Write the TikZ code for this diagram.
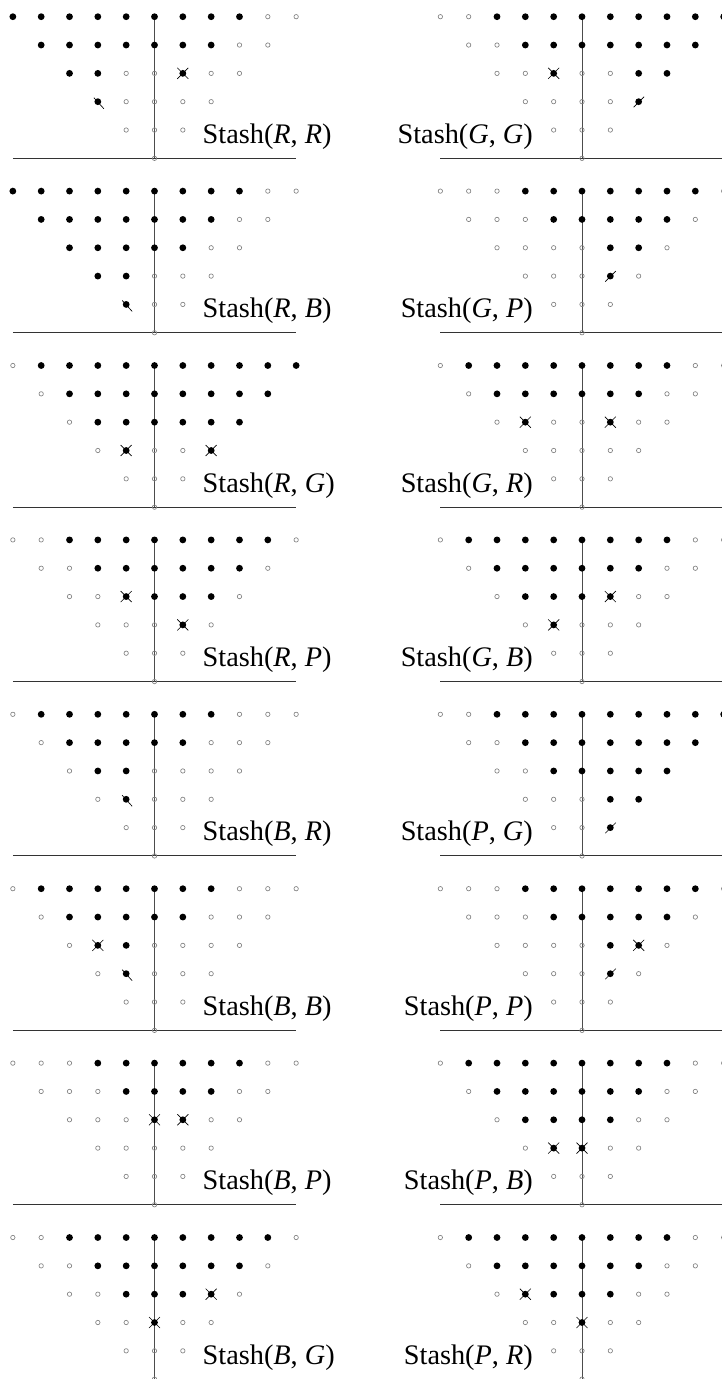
\documentclass[tikz,border=0pt]{standalone}
\usepackage{fontspec}
\setmainfont{Liberation Serif}
\def\dsp{28.33}
\tikzset{
  hol/.style={draw=black!50, line width=0.65pt},
  dotc/.style={fill=black},
  mkl/.style={draw=black, line width=0.65pt},
  vline/.style={draw=black!70, line width=1pt},
  bline/.style={draw=black!80, line width=1pt},
  lab/.style={inner sep=0pt, font=\fontsize{28.3}{30}\selectfont}
}
\newcommand\mkdot[3]{%
  \if#1o\draw[hol] (#2,#3) circle (2.2);\fi
  \if#1f\fill[dotc] (#2,#3) circle (3.4);\fi
  \if#1x\fill[dotc] (#2,#3) circle (3.4);\draw[mkl] (#2-5.5,#3-5.5) -- (#2+5.5,#3+5.5) (#2-5.5,#3+5.5) -- (#2+5.5,#3-5.5);\fi
  \if#1b\fill[dotc] (#2,#3) circle (3.4);\draw[mkl] (#2-4,#3-4) -- (#2+6,#3+7);\fi
  \if#1s\fill[dotc] (#2,#3) circle (3.4);\draw[mkl] (#2+5.5,#3-5) -- (#2-5,#3+5.5);\fi
}
\newcommand\drawrow[4]{%
  \foreach \dc [count=\di] in {#4}{%
    \pgfmathsetmacro\xx{#1+(\di-1-#3)*\dsp}%
    \mkdot{\dc}{\xx}{#2}%
  }}
\newcommand\panel[9]{%
  \pgfmathsetmacro\ya{#2}%
  \pgfmathsetmacro\yb{#2+\dsp}%
  \pgfmathsetmacro\yc{#2+2*\dsp}%
  \pgfmathsetmacro\yd{#2+3*\dsp}%
  \pgfmathsetmacro\ye{#2+4*\dsp}%
  \pgfmathsetmacro\yf{#2+5*\dsp}%
  \pgfmathsetmacro\xl{#1-5*\dsp}%
  \pgfmathsetmacro\xr{#1+5*\dsp}%
  \draw[bline] (\xl,\yf) -- (\xr,\yf);
  \draw[vline] (#1,\ya) -- (#1,\yf);
  \drawrow{#1}{\ya}{5}{#3}
  \drawrow{#1}{\yb}{4}{#4}
  \drawrow{#1}{\yc}{3}{#5}
  \drawrow{#1}{\yd}{2}{#6}
  \drawrow{#1}{\ye}{1}{#7}
  \mkdot{o}{#1}{\yf}
  \if#9L\node[lab,anchor=base west] at (#1+48,\ye+13.3) {#8};\else\node[lab,anchor=base east] at (#1-49,\ye+13.3) {#8};\fi
}
\newcommand\st[2]{Stash(\textit{#1}, \textit{#2})}
\begin{document}
\begin{tikzpicture}[x=1pt,y=-1pt]
\useasboundingbox (0,0) rectangle (722,1379);
\clip (0,0) rectangle (722,1379);
% left column
\panel{154.5}{16.7}{f,f,f,f,f,f,f,f,f,o,o}{f,f,f,f,f,f,f,o,o}{f,f,o,o,x,o,o}{b,o,o,o,o}{o,o,o}{\st{R}{R}}{L}
\panel{154.5}{191.1}{f,f,f,f,f,f,f,f,f,o,o}{f,f,f,f,f,f,f,o,o}{f,f,f,f,f,o,o}{f,f,o,o,o}{b,o,o}{\st{R}{B}}{L}
\panel{154.5}{365.5}{o,f,f,f,f,f,f,f,f,f,f}{o,f,f,f,f,f,f,f,f}{o,f,f,f,f,f,f}{o,x,o,o,x}{o,o,o}{\st{R}{G}}{L}
\panel{154.5}{539.9}{o,o,f,f,f,f,f,f,f,f,o}{o,o,f,f,f,f,f,f,o}{o,o,x,f,f,f,o}{o,o,o,x,o}{o,o,o}{\st{R}{P}}{L}
\panel{154.5}{714.3}{o,f,f,f,f,f,f,f,o,o,o}{o,f,f,f,f,f,o,o,o}{o,f,f,o,o,o,o}{o,b,o,o,o}{o,o,o}{\st{B}{R}}{L}
\panel{154.5}{888.7}{o,f,f,f,f,f,f,f,o,o,o}{o,f,f,f,f,f,o,o,o}{o,x,f,o,o,o,o}{o,b,o,o,o}{o,o,o}{\st{B}{B}}{L}
\panel{154.5}{1063.1}{o,o,o,f,f,f,f,f,f,o,o}{o,o,o,f,f,f,f,o,o}{o,o,o,x,x,o,o}{o,o,o,o,o}{o,o,o}{\st{B}{P}}{L}
\panel{154.5}{1237.5}{o,o,f,f,f,f,f,f,f,f,o}{o,o,f,f,f,f,f,f,o}{o,o,f,f,f,x,o}{o,o,x,o,o}{o,o,o}{\st{B}{G}}{L}
% right column
\panel{582}{16.7}{o,o,f,f,f,f,f,f,f,f,f}{o,o,f,f,f,f,f,f,f}{o,o,x,o,o,f,f}{o,o,o,o,s}{o,o,o}{\st{G}{G}}{R}
\panel{582}{191.1}{o,o,o,f,f,f,f,f,f,f,o}{o,o,o,f,f,f,f,f,o}{o,o,o,o,f,f,o}{o,o,o,s,o}{o,o,o}{\st{G}{P}}{R}
\panel{582}{365.5}{o,f,f,f,f,f,f,f,f,o,o}{o,f,f,f,f,f,f,o,o}{o,x,o,o,x,o,o}{o,o,o,o,o}{o,o,o}{\st{G}{R}}{R}
\panel{582}{539.9}{o,f,f,f,f,f,f,f,f,o,o}{o,f,f,f,f,f,f,o,o}{o,f,f,f,x,o,o}{o,x,o,o,o}{o,o,o}{\st{G}{B}}{R}
\panel{582}{714.3}{o,o,f,f,f,f,f,f,f,f,f}{o,o,f,f,f,f,f,f,f}{o,o,f,f,f,f,f}{o,o,o,f,f}{o,o,s}{\st{P}{G}}{R}
\panel{582}{888.7}{o,o,o,f,f,f,f,f,f,f,o}{o,o,o,f,f,f,f,f,o}{o,o,o,o,f,x,o}{o,o,o,s,o}{o,o,o}{\st{P}{P}}{R}
\panel{582}{1063.1}{o,f,f,f,f,f,f,f,f,o,o}{o,f,f,f,f,f,f,o,o}{o,f,f,f,f,o,o}{o,x,x,o,o}{o,o,o}{\st{P}{B}}{R}
\panel{582}{1237.5}{o,f,f,f,f,f,f,f,f,o,o}{o,f,f,f,f,f,f,o,o}{o,x,f,f,f,o,o}{o,o,x,o,o}{o,o,o}{\st{P}{R}}{R}
\end{tikzpicture}
\end{document}
